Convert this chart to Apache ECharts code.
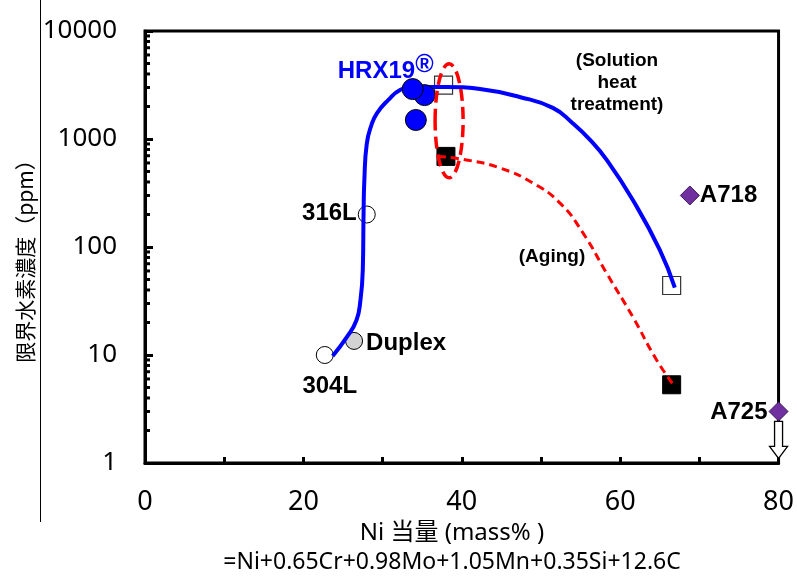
<!DOCTYPE html>
<html>
<head>
<meta charset="utf-8">
<script src="https://cdn.jsdelivr.net/npm/echarts@6/dist/echarts.min.js"></script>
<style>
html,body{margin:0;padding:0;background:#fff;}
#main{width:797px;height:577px;}
</style>
</head>
<body>
<div id="main"></div>
<script>
// Ni当量 vs 限界水素濃度
var ss304 = [[22.7, 10]];
var duplex = [[26.4, 13.5]];
var ss316 = [[28.0, 200]];
var hrx19 = [[35.3, 2550], [34.2, 1500], [33.8, 2900]];
var solutionPts = [[37.7, 3150], [66.5, 44]];
var agingPts = [[38.0, 690], [66.5, 5.3]];
var a718 = [[68.8, 300]];
var a725 = [[80, 3]];

// 曲線
var blueCurve = [[23.7, 9.8], [25.5, 14.7], [26.7, 21], [27.2, 32], [27.5, 61], [27.6, 206], [27.7, 418],
    [28.0, 900], [28.6, 1350], [29.3, 1740], [30.7, 2290], [32.2, 2840], [33.8, 3030], [38.1, 3030],
    [42.3, 2900], [47.3, 2450], [51.5, 1940], [54.0, 1400], [56.2, 980], [58.3, 640], [61.6, 272],
    [65.0, 94], [66.9, 42]];
var redCurve = [[37.0, 690], [40.6, 640], [44.8, 540], [49.0, 390], [52.4, 255], [55.3, 135],
    [58.3, 57], [61.6, 22.5], [64.6, 9.0], [66.9, 5.1]];

// 目盛
var xTicks = [0, 20, 40, 60, 80];
var yMinorTicks = [];
[1, 10, 100, 1000].forEach(function (d) {
    for (var k = 2; k <= 9; k++) yMinorTicks.push(d * k);
});

var boldFont = 'Liberation Sans';
var myChart = echarts.init(document.getElementById('main'), null, {renderer: 'canvas'});

function ptLabel(text, dx, dy, align, size) {
    return {
        show: true, position: 'inside', offset: [dx, dy], align: align,
        formatter: text, color: '#000', fontFamily: boldFont, fontWeight: 'bold', fontSize: size || 24
    };
}

// A286楕円の中心 (溶体化と時効の幾何平均)
var a286Center = [agingPts[0][0] + 0.4, Math.sqrt(solutionPts[0][1] * agingPts[0][1])];

option = {
    animation: false,
    grid: {left: 145, right: 18, top: 31, bottom: 114, show: true, borderColor: '#000', borderWidth: 3},
    xAxis: {
        type: 'value', min: 0, max: 80, interval: 10,
        axisLine: {lineStyle: {color: '#000', width: 3}},
        axisTick: {inside: true, length: 6, lineStyle: {color: '#000', width: 3}},
        splitLine: {show: false},
        axisLabel: {
            margin: 26, color: '#000', fontFamily: 'Noto Sans', fontSize: 27,
            formatter: function (v) { return xTicks.indexOf(v) >= 0 ? String(v) : ''; }
        }
    },
    yAxis: {
        type: 'log', logBase: 10, min: 1, max: 10000,
        axisLine: {lineStyle: {color: '#000', width: 3}},
        axisTick: {inside: true, length: 8, lineStyle: {color: '#000', width: 3}},
        splitLine: {show: false},
        axisLabel: {
            margin: 28, color: '#000', fontFamily: 'Noto Sans', fontSize: 26,
            formatter: function (v) { return String(Math.round(v)); }
        }
    },
    graphic: [
        {type: 'line', shape: {x1: 40.5, y1: 0, x2: 40.5, y2: 522}, style: {stroke: '#000', lineWidth: 1}},
        {type: 'text', x: 25, y: 256, rotation: Math.PI / 2,
            style: {text: '限界水素濃度（ppm）', textAlign: 'center', textVerticalAlign: 'middle',
                fontFamily: 'Noto Sans CJK JP', fontSize: 21, fill: '#000'}},
        {type: 'text', x: 452, y: 533,
            style: {text: 'Ni 当量 (mass% )', textAlign: 'center', textVerticalAlign: 'middle',
                fontFamily: 'Noto Sans, Noto Sans CJK JP', fontSize: 24, fill: '#000'}},
        {type: 'text', x: 452, y: 562,
            style: {text: '=Ni+0.65Cr+0.98Mo+1.05Mn+0.35Si+12.6C', textAlign: 'center', textVerticalAlign: 'middle',
                fontFamily: 'Noto Sans', fontSize: 23, fill: '#000'}},
        {type: 'text', x: 617, y: 83,
            style: {text: '(Solution\nheat\ntreatment)', textAlign: 'center', textVerticalAlign: 'middle',
                fontFamily: boldFont, fontWeight: 'bold', fontSize: 19, lineHeight: 22, fill: '#000'}},
        {type: 'text', x: 552, y: 257,
            style: {text: '(Aging)', textAlign: 'center', textVerticalAlign: 'middle',
                fontFamily: boldFont, fontWeight: 'bold', fontSize: 19, fill: '#000'}}
    ],
    series: [
        {
            type: 'custom', name: 'minorTick', clip: false, z: 5,
            data: yMinorTicks.map(function (v) { return [0, v]; }),
            renderItem: function (params, api) {
                var p = api.coord([0, api.value(1)]);
                return {type: 'line', shape: {x1: p[0], y1: p[1], x2: p[0] + 5, y2: p[1]},
                    style: {stroke: '#000', lineWidth: 3}};
            }
        },
        {
            type: 'scatter', name: '304L', clip: false, z: 3, data: ss304, symbol: 'circle', symbolSize: 17,
            itemStyle: {color: '#fff', borderColor: '#000', borderWidth: 1, opacity: 1},
            label: ptLabel('304L', 5, 31, 'center')
        },
        {
            type: 'scatter', name: 'Duplex', clip: false, z: 3, data: duplex, symbol: 'circle', symbolSize: 17,
            itemStyle: {color: '#d3d3d3', borderColor: '#000', borderWidth: 1, opacity: 1},
            label: ptLabel('Duplex', 12, 2, 'left')
        },
        {
            type: 'scatter', name: '316L', clip: false, z: 3, data: ss316, symbol: 'circle', symbolSize: 17,
            itemStyle: {color: '#fff', borderColor: '#000', borderWidth: 1, opacity: 1},
            label: ptLabel('316L', -10, -1, 'right')
        },
        {
            type: 'scatter', name: 'solution', clip: false, z: 3, data: solutionPts, symbol: 'rect', symbolSize: 18,
            itemStyle: {color: 'rgba(255,255,255,0)', borderColor: '#333', borderWidth: 1.2, opacity: 1}
        },
        {
            type: 'scatter', name: 'aging', clip: false, z: 3, data: agingPts, symbol: 'rect', symbolSize: 18,
            itemStyle: {color: '#000', borderColor: '#000', borderWidth: 1, opacity: 1}
        },
        {
            type: 'line', name: 'solutionCurve', data: blueCurve, smooth: 0.5, showSymbol: false, z: 4,
            lineStyle: {color: '#0000ff', width: 4}
        },
        {
            type: 'line', name: 'agingCurve', data: redCurve, smooth: 0.5, showSymbol: false, z: 4,
            lineStyle: {color: '#ff0000', width: 3, type: [8, 5]}
        },
        {
            type: 'scatter', name: 'HRX19', clip: false, z: 6, data: hrx19, symbol: 'circle', symbolSize: 21,
            itemStyle: {color: '#0000ff', borderColor: '#000', borderWidth: 1, opacity: 1},
            label: {
                show: true, position: 'inside', offset: [-27, -21], align: 'center',
                formatter: function (p) { return p.dataIndex === hrx19.length - 1 ? '{a|HRX19}{b|®}' : ''; },
                rich: {
                    a: {color: '#0000ff', fontFamily: boldFont, fontWeight: 'bold', fontSize: 24, lineHeight: 30, verticalAlign: 'bottom'},
                    b: {color: '#0000ff', fontFamily: boldFont, fontWeight: 'bold', fontSize: 25, lineHeight: 30, verticalAlign: 'top', padding: [0, 0, 10, 0]}
                }
            }
        },
        {
            type: 'scatter', name: 'A286', clip: false, z: 6, data: [agingPts[0]], symbol: 'none',
            label: ptLabel('A286', 6, -37, 'left', 22)
        },
        {
            type: 'custom', name: 'A286ring', clip: false, z: 7, data: [a286Center],
            renderItem: function (params, api) {
                var c = api.coord([api.value(0), api.value(1)]);
                return {type: 'ellipse', shape: {cx: c[0], cy: c[1], rx: 14, ry: 57},
                    style: {fill: 'none', stroke: '#ff0000', lineWidth: 3.5, lineDash: [12, 6]}};
            }
        },
        {
            type: 'scatter', name: 'A718', clip: false, z: 6, data: a718, symbol: 'diamond', symbolSize: [19, 19],
            itemStyle: {color: '#7030a0', borderColor: '#3a1a55', borderWidth: 1, opacity: 1},
            label: ptLabel('A718', 10, 0, 'left')
        },
        {
            type: 'custom', name: 'A725arrow', clip: false, z: 6, data: a725,
            renderItem: function (params, api) {
                var c = api.coord([api.value(0), api.value(1)]);
                var x = c[0], y = c[1];
                return {type: 'polygon', shape: {points: [
                    [x - 4, y + 10], [x + 4, y + 10], [x + 4, y + 35], [x + 9, y + 35],
                    [x, y + 47], [x - 9, y + 35], [x - 4, y + 35]
                ]}, style: {fill: '#fff', stroke: '#000', lineWidth: 1.3}};
            }
        },
        {
            type: 'scatter', name: 'A725', clip: false, z: 7, data: a725, symbol: 'diamond', symbolSize: [19, 19],
            itemStyle: {color: '#7030a0', borderColor: '#3a1a55', borderWidth: 1, opacity: 1},
            label: ptLabel('A725', -11, 1, 'right')
        }
    ]
};

myChart.setOption(option);
</script>
</body>
</html>
